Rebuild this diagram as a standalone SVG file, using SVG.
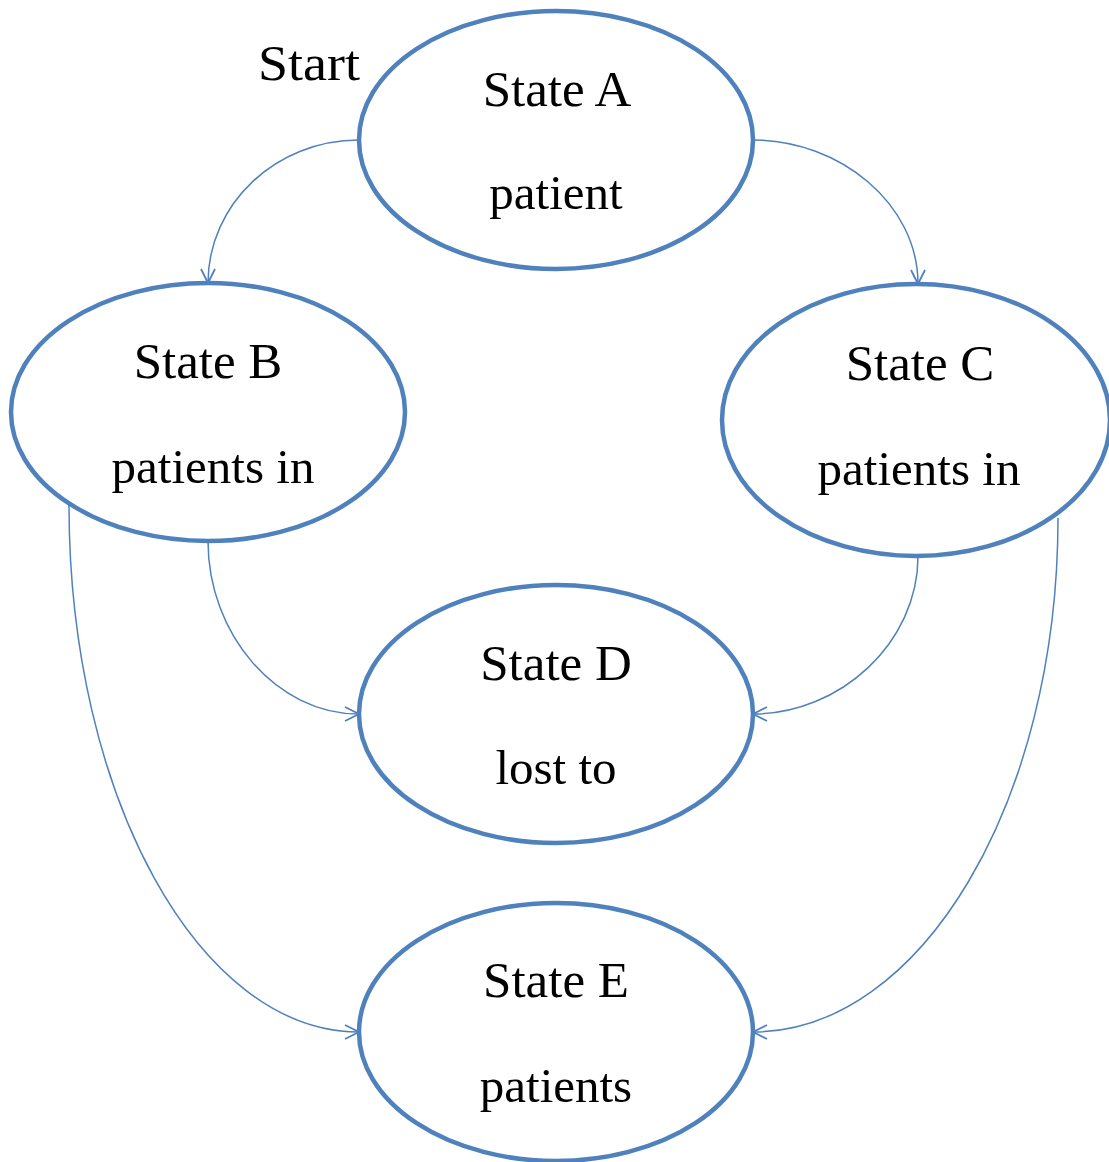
<svg xmlns="http://www.w3.org/2000/svg" width="1109" height="1162" viewBox="0 0 1109 1162">
<defs>
<style>
.node{fill:#fff;stroke:#4f81bd;stroke-width:4.5}
.edge{fill:none;stroke:#4f81bd;stroke-width:1.5}
.t{font-family:"Liberation Serif","Times New Roman",serif;font-size:51px;fill:#000;text-anchor:middle}
.s{font-family:"Liberation Serif","Times New Roman",serif;font-size:49px;fill:#000;text-anchor:middle}
</style>
<marker id="arr" viewBox="0 0 16 16" refX="15" refY="8" markerWidth="16" markerHeight="16" markerUnits="userSpaceOnUse" orient="auto">
<path d="M1,1 L15,8 L1,15" fill="none" stroke="#4f81bd" stroke-width="1.8"/>
</marker>
</defs>
<rect width="1109" height="1162" fill="#fff"/>
<g id="connectors">
<path class="edge" d="M359,140 C276,140 208,204 208,283" marker-end="url(#arr)"/>
<path class="edge" d="M753,140 C840,140 918,204 918,284" marker-end="url(#arr)"/>
<path class="edge" d="M208,541 C208,634 276,714 359,714" marker-end="url(#arr)"/>
<path class="edge" d="M918,556 C918,643 840,714 753,714" marker-end="url(#arr)"/>
<path class="edge" d="M69,505 C69,796 199,1032 359,1032" marker-end="url(#arr)"/>
<path class="edge" d="M1058,518 C1058,802 921,1032 753,1032" marker-end="url(#arr)"/>
</g>
<g id="start"><text class="t" x="309" y="80" textLength="102" lengthAdjust="spacingAndGlyphs">Start</text></g>
<g id="stateA">
<ellipse class="node" cx="556" cy="140" rx="197" ry="129"/>
<text class="t" x="557" y="106">State A</text>
<text class="s" x="556" y="209">patient</text>
</g>
<g id="stateB">
<ellipse class="node" cx="208" cy="412" rx="197" ry="129"/>
<text class="t" x="208" y="378">State B</text>
<text class="s" x="213" y="483">patients in</text>
</g>
<g id="stateC">
<ellipse class="node" cx="916" cy="420" rx="194" ry="136"/>
<text class="t" x="920" y="380">State C</text>
<text class="s" x="919" y="485">patients in</text>
</g>
<g id="stateD">
<ellipse class="node" cx="556" cy="714" rx="197" ry="129"/>
<text class="t" x="556" y="680">State D</text>
<text class="s" x="556" y="784">lost to</text>
</g>
<g id="stateE">
<ellipse class="node" cx="556" cy="1032" rx="197" ry="129"/>
<text class="t" x="556" y="997">State E</text>
<text class="s" x="556" y="1102">patients</text>
</g>
</svg>
